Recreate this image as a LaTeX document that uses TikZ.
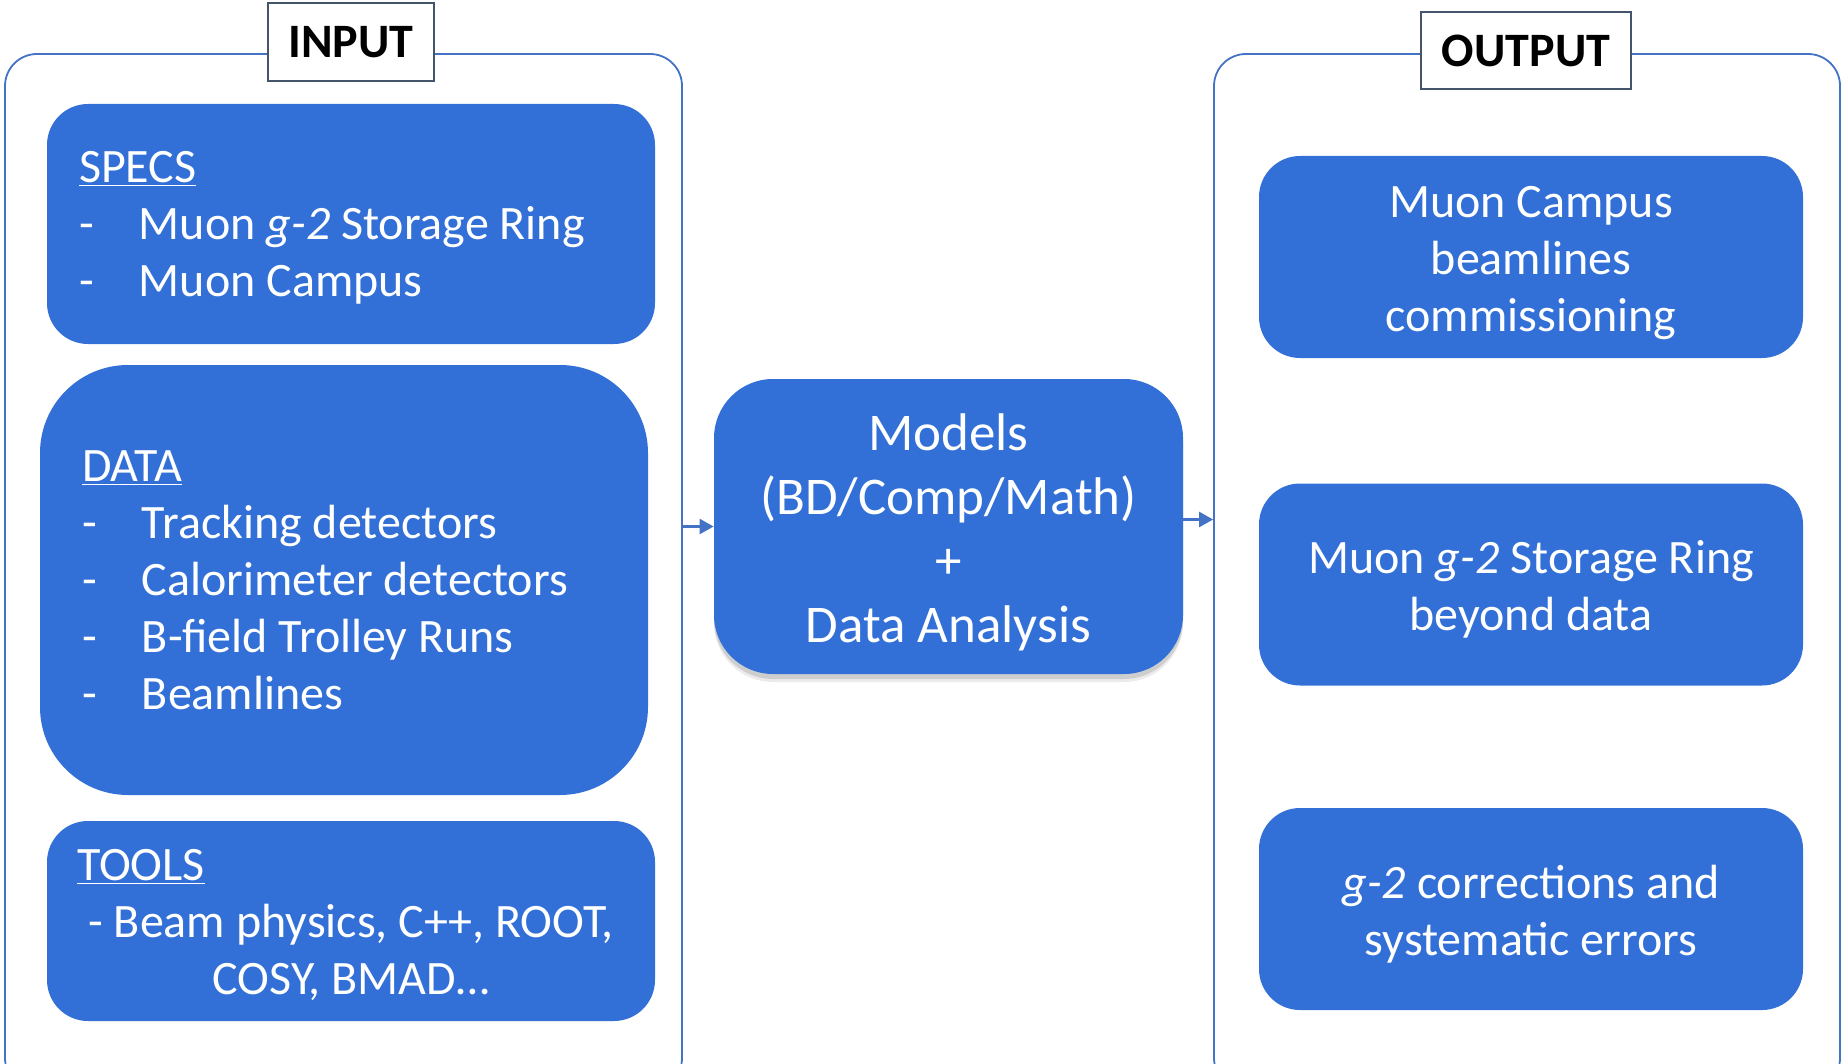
\documentclass[tikz,border=0pt]{standalone}
\usepackage{fontspec}
\setmainfont{Carlito}
\usetikzlibrary{shadows,arrows.meta}
\definecolor{boxblue}{RGB}{50,112,215}
\definecolor{frameblue}{RGB}{68,114,196}
\definecolor{labelgray}{RGB}{68,84,106}
\newcommand\toppad[2]{\raisebox{#1}{\vphantom{#2}}#2}
\begin{document}
\begin{tikzpicture}[x=0.5pt,y=-0.5pt,
  bluebox/.style={rectangle, rounded corners=20.5pt, fill=boxblue, text=white, inner sep=0pt, font=\fontsize{24}{28.5}\selectfont},
  framebox/.style={draw=frameblue, line width=0.9pt, rounded corners=16pt, inner sep=0pt},
  labelbox/.style={draw=labelgray, line width=1pt, fill=white, inner sep=0pt, font=\fontsize{24}{29}\selectfont\bfseries},
  conn/.style={draw=frameblue, line width=1.2pt, -{Triangle[length=7pt,width=7.5pt]}}]
\clip (0,0) rectangle (1845,1064);
\useasboundingbox (0,0) rectangle (1845,1064);
% frames
\node[framebox, minimum width=338.5pt, minimum height=518pt] (inframe) at (343.5,572) {};
\node[framebox, minimum width=313pt, minimum height=518pt] (outframe) at (1527,572) {};
% labels
\node[labelbox, minimum width=83pt, minimum height=39pt] (inlabel) at (351,42) {INPUT};
\node[labelbox, minimum width=105pt, minimum height=38.5pt] (outlabel) at (1526,50.5) {OUTPUT};
% input boxes
\node[bluebox, minimum width=304pt, minimum height=120pt, text width=272pt, align=flush left] (specs) at (351,224)
  {\toppad{3.5pt}{\underline{SPECS}}\\
   \makebox[30pt][l]{-}Muon \textit{g-2} Storage Ring\\
   \makebox[30pt][l]{-}Muon Campus};
\node[bluebox, rounded corners=44pt, minimum width=304pt, minimum height=215pt, text width=262pt, align=flush left] (data) at (344,580)
  {\underline{DATA}\\
   \makebox[30pt][l]{-}Tracking detectors\\
   \makebox[30pt][l]{-}Calorimeter detectors\\
   \makebox[30pt][l]{-}B-field Trolley Runs\\
   \makebox[30pt][l]{-}Beamlines};
\node[bluebox, minimum width=304pt, minimum height=100pt, text width=274pt, align=flush center] (tools) at (351,921)
  {\raisebox{4pt}{\vphantom{TOOLS}}\makebox[274pt][l]{\underline{TOOLS}}\\
   - Beam physics, C++, ROOT,\\
   COSY, BMAD\ldots};
% models
\node[bluebox, rounded corners=29.5pt, minimum width=234.5pt, minimum height=147.5pt, text width=224pt, align=flush center,
  font=\fontsize{26.5}{32}\selectfont,
  general shadow={shadow xshift=0pt, shadow yshift=-4pt, fill=black, opacity=0.08},
  general shadow={shadow xshift=0pt, shadow yshift=-2.5pt, fill=black, opacity=0.12}] (models) at (948.5,526.5)
  {\toppad{5.8pt}{Models}\\(BD/Comp/Math)\\+\\Data Analysis};
% output boxes
\node[bluebox, minimum width=272pt, minimum height=101pt, text width=260pt, align=flush center] (out1) at (1531,257)
  {\toppad{5.8pt}{Muon Campus}\\beamlines\\commissioning};
\node[bluebox, minimum width=272pt, minimum height=101pt, text width=260pt, align=flush center] (out2) at (1531,584.5)
  {\toppad{5pt}{Muon \textit{g-2} Storage Ring}\\beyond data};
\node[bluebox, minimum width=272pt, minimum height=101pt, text width=260pt, align=flush center] (out3) at (1531,909)
  {\toppad{5pt}{\textit{g-2} corrections and}\\systematic errors};
% connectors
\draw[conn] (inframe.east |- models.west) -- (models.west);
\draw[conn] ([yshift=3.5pt]models.east) -- ([yshift=3.5pt]models.east -| outframe.west);
\end{tikzpicture}
\end{document}
